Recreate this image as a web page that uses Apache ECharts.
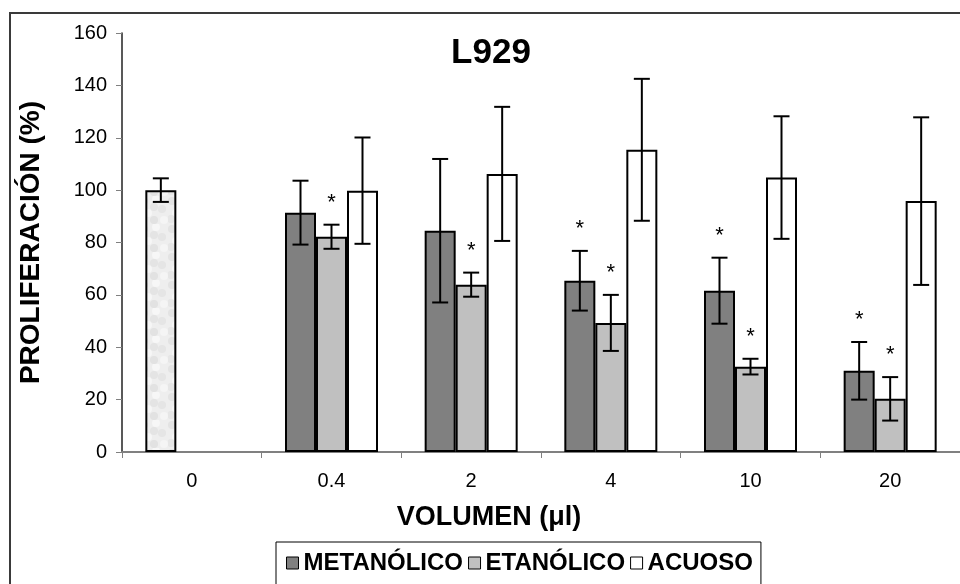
<!DOCTYPE html>
<html lang="es">
<head>
    <meta charset="UTF-8">
    <title>L929</title>
    <script src="https://cdn.jsdelivr.net/npm/echarts@6/dist/echarts.min.js"></script>
    <style>
        html, body { margin: 0; padding: 0; background: #fff; }
        #main { width: 960px; height: 584px; }
    </style>
</head>
<body>
    <div id="main"></div>
    <script>
        // datos
        var volumenes = ['0', '0.4', '2', '4', '10', '20'];
        var metanolico = [100, 91.4, 84.5, 65.4, 61.6, 31.0];   // el primero es el control
        var metanolicoErr = [4.5, 12.2, 27.4, 11.4, 12.6, 11.0];
        var etanolico = [null, 82.2, 63.9, 49.3, 32.6, 20.3];
        var etanolicoErr = [null, 4.6, 4.6, 10.7, 3.0, 8.3];
        var acuoso = [null, 99.8, 106.2, 115.4, 104.8, 95.8];
        var acuosoErr = [null, 20.3, 25.6, 27.1, 23.4, 32.0];
        // asteriscos (1 = significativo)
        var metanolicoSig = [0, 0, 0, 1, 1, 1];
        var etanolicoSig = [0, 1, 1, 1, 1, 1];
        var yTicks = [0, 20, 40, 60, 80, 100, 120, 140, 160];

        var BW = 31;
        var font = 'Liberation Sans, Arial, sans-serif';

        // textura moteada del control
        function controlPattern() {
            var c = document.createElement('canvas');
            c.width = 28; c.height = 28;
            var ctx = c.getContext('2d');
            ctx.fillStyle = '#eeeeee';
            ctx.fillRect(0, 0, 28, 28);
            var spots = [[4, 5, '#e3e3e3'], [16, 3, '#f7f7f7'], [22, 13, '#e5e5e5'], [8, 17, '#f6f6f6'],
                [14, 24, '#e2e2e2'], [24, 24, '#f5f5f5'], [3, 23, '#e6e6e6'], [14, 11, '#e4e4e4']];
            spots.forEach(function (s) {
                ctx.fillStyle = s[2];
                ctx.beginPath();
                ctx.arc(s[0], s[1], 4, 0, Math.PI * 2);
                ctx.fill();
            });
            return c;
        }

        var errData = [], starData = [];
        [[metanolico, metanolicoErr, metanolicoSig], [etanolico, etanolicoErr, etanolicoSig], [acuoso, acuosoErr, null]]
            .forEach(function (grp, s) {
                grp[0].forEach(function (v, i) {
                    if (v == null) return;
                    errData.push([i, v - grp[1][i], v + grp[1][i], s]);
                    if (grp[2] && grp[2][i]) starData.push([i, v + grp[1][i], s]);
                });
            });

        var barStyle = { borderColor: '#000', borderWidth: 2 };
        var metData = metanolico.map(function (v, i) {
            if (i === 0) {
                return { value: v, itemStyle: { color: { image: controlPattern(), repeat: 'repeat' } } };
            }
            return v;
        });

        var myChart = echarts.init(document.getElementById('main'));
        var option = {
            backgroundColor: '#fff',
            animation: false,
            title: {
                text: 'L929',
                left: 486,
                top: 31,
                textAlign: 'center',
                textStyle: { fontFamily: font, fontSize: 35, fontWeight: 'bold', color: '#000' }
            },
            graphic: [{
                type: 'rect',
                shape: { x: 10, y: 13, width: 1000, height: 1000 },
                style: { fill: 'none', stroke: '#3a3a3a', lineWidth: 2 },
                z: -10
            }],
            legend: {
                data: ['METANÓLICO', 'ETANÓLICO', 'ACUOSO'],
                left: 276,
                top: 542,
                padding: [9, 8, 30, 10],
                itemGap: 5,
                itemWidth: 12,
                itemHeight: 12,
                icon: 'rect',
                borderColor: '#000',
                borderWidth: 1,
                itemStyle: { borderColor: '#000', borderWidth: 1 },
                textStyle: { fontFamily: font, fontSize: 24, fontWeight: 'bold', color: '#000' }
            },
            grid: { left: 122, top: 33, width: 850, height: 419 },
            xAxis: {
                type: 'category',
                data: volumenes,
                name: 'VOLUMEN (μl)',
                nameLocation: 'middle',
                nameGap: 52,
                nameTextStyle: {
                    fontFamily: font, fontSize: 27, fontWeight: 'bold', color: '#000',
                    padding: [0, 104, 0, 0]
                },
                axisLine: { lineStyle: { color: '#808080', width: 2 } },
                axisTick: { show: true, length: 6, lineStyle: { color: '#808080' } },
                axisLabel: { fontFamily: font, fontSize: 20, color: '#000', margin: 19 }
            },
            yAxis: {
                type: 'value',
                min: yTicks[0],
                max: yTicks[yTicks.length - 1],
                interval: 20,
                name: 'PROLIFERACIÓN (%)',
                nameLocation: 'middle',
                nameGap: 77,
                nameTextStyle: { fontFamily: font, fontSize: 28, fontWeight: 'bold', color: '#000' },
                splitLine: { show: false },
                axisLine: { show: true, lineStyle: { color: '#222', width: 1.5 } },
                axisTick: { show: true, length: 6, lineStyle: { color: '#808080' } },
                axisLabel: { fontFamily: font, fontSize: 20, color: '#000', margin: 15 }
            },
            series: [{
                name: 'METANÓLICO',
                type: 'bar',
                data: metData,
                barWidth: BW,
                barGap: '0%',
                itemStyle: Object.assign({ color: '#808080' }, barStyle)
            }, {
                name: 'ETANÓLICO',
                type: 'bar',
                data: etanolico,
                barWidth: BW,
                barGap: '0%',
                itemStyle: Object.assign({ color: '#c0c0c0' }, barStyle)
            }, {
                name: 'ACUOSO',
                type: 'bar',
                data: acuoso,
                barWidth: BW,
                barGap: '0%',
                itemStyle: Object.assign({ color: '#fff' }, barStyle)
            }, {
                // barras de error
                type: 'custom',
                data: errData,
                encode: { x: 0, y: [1, 2] },
                z: 5,
                silent: true,
                renderItem: function (params, api) {
                    var i = api.value(0), s = api.value(3);
                    var x = api.coord([i, 0])[0] + (s - 1) * BW;
                    var top = api.coord([i, api.value(2)])[1];
                    var bot = api.coord([i, api.value(1)])[1];
                    var st = { stroke: '#000', lineWidth: 2 };
                    return {
                        type: 'group',
                        children: [
                            { type: 'line', shape: { x1: x, y1: top, x2: x, y2: bot }, style: st },
                            { type: 'line', shape: { x1: x - 8, y1: top, x2: x + 8, y2: top }, style: st },
                            { type: 'line', shape: { x1: x - 8, y1: bot, x2: x + 8, y2: bot }, style: st }
                        ]
                    };
                }
            }, {
                // asteriscos
                type: 'custom',
                data: starData,
                encode: { x: 0, y: 1 },
                z: 6,
                silent: true,
                renderItem: function (params, api) {
                    var i = api.value(0), s = api.value(2);
                    var p = api.coord([i, api.value(1)]);
                    return {
                        type: 'text',
                        style: {
                            x: p[0] + (s - 1) * BW,
                            y: p[1] - 22,
                            text: '*',
                            fill: '#000',
                            font: '22px ' + font,
                            align: 'center',
                            verticalAlign: 'middle'
                        }
                    };
                }
            }]
        };
        myChart.setOption(option);
    </script>
</body>
</html>
